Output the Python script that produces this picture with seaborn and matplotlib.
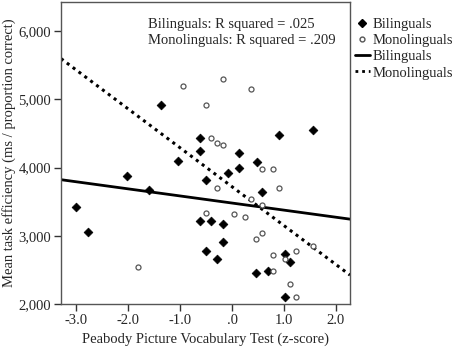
import numpy as np
import pandas as pd
import matplotlib
matplotlib.use("Agg")
import matplotlib.pyplot as plt
from matplotlib.lines import Line2D
import seaborn as sns

# Bilinguals (filled diamonds)
bil_x = [-3.0, -2.775, -2.02, -1.59, -1.365, -1.045, -0.615, -0.615, -0.50, -0.07,
         0.14, 0.14, 0.475, 0.904, 1.558, 0.577, -0.615, -0.40, -0.173, -0.173,
         -0.50, -0.283, 1.013, 1.115, 0.467, 0.687, 1.013]
bil_y = [3416, 3055, 3873, 3670, 4924, 4102, 4434, 4242, 3825, 3927,
         4219, 3993, 4088, 4477, 4550, 3650, 3216, 3216, 3168, 2915,
         2781, 2662, 2730, 2613, 2448, 2482, 2107]

# Monolinguals (open circles)
mono_x = [-1.81, -0.94, -0.506, -0.18, 0.36, -0.40, -0.29, -0.18, 0.577, 0.795,
          -0.283, 0.904, -0.506, 0.04, 0.365, 0.577, 0.25, 0.577, 0.467, 0.795,
          1.23, 1.013, 0.795, 1.558, 1.12, 1.23]
mono_y = [2550, 5193, 4915, 5294, 5153, 4440, 4365, 4335, 3985, 3985,
          3708, 3703, 3337, 3314, 3547, 3445, 3277, 3037, 2954, 2723,
          2780, 2667, 2477, 2847, 2288, 2107]

x_ticks = [-3.0, -2.0, -1.0, 0.0, 1.0, 2.0]
x_tick_labels = ["-3.0", "-2.0", "-1.0", ".0", "1.0", "2.0"]
y_ticks = [2000, 3000, 4000, 5000, 6000]
y_tick_labels = ["2,000", "3,000", "4,000", "5,000", "6,000"]

df = pd.DataFrame({
    "ppvt": bil_x + mono_x,
    "eff": bil_y + mono_y,
    "group": ["Bilinguals"] * len(bil_x) + ["Monolinguals"] * len(mono_x),
})

sns.set_style("white")
plt.rcParams["font.family"] = ["Liberation Serif", "DejaVu Serif"]

fig = plt.figure(figsize=(4.54, 3.51), dpi=100)
ax = fig.add_axes([61 / 454, 47 / 351, 289 / 454, 302 / 351])
ax.set_xlim(-3.29, 2.27)
ax.set_ylim(2000, 6430)

bil = df[df.group == "Bilinguals"]
mono = df[df.group == "Monolinguals"]

sns.scatterplot(data=bil, x="ppvt", y="eff", marker="D", color="black", s=20,
                edgecolor="black", linewidth=0.5, ax=ax, zorder=3)
sns.scatterplot(data=mono, x="ppvt", y="eff", marker="o", facecolor="white", s=13,
                edgecolor="#555555", linewidth=0.9, ax=ax, zorder=3)

sns.regplot(data=bil, x="ppvt", y="eff", scatter=False, ci=None, truncate=False,
            line_kws={"color": "black", "lw": 2.0}, ax=ax)
sns.regplot(data=mono, x="ppvt", y="eff", scatter=False, ci=None, truncate=False,
            line_kws={"color": "black", "lw": 2.2, "ls": (0, (1, 1.4))}, ax=ax)
ax.set_xlim(-3.29, 2.27)
ax.set_ylim(2000, 6430)

ax.set_xticks(x_ticks)
ax.set_xticklabels(x_tick_labels)
ax.set_yticks(y_ticks)
ax.set_yticklabels(y_tick_labels)
ax.tick_params(axis="both", direction="out", length=5, width=1, color="#333333",
               labelsize=10.5, pad=2, left=True, bottom=True)
for sp in ax.spines.values():
    sp.set_color("#555555")
    sp.set_linewidth(1)

ax.set_xlabel("Peabody Picture Vocabulary Test (z-score)", fontsize=10.5, labelpad=4)
ax.set_ylabel("Mean task efficiency (ms / proportion correct)", fontsize=10.5, labelpad=2)

ax.text(0.302, 0.927, "Bilinguals: R squared = .025", transform=ax.transAxes,
        fontsize=10.5, va="center")
ax.text(0.302, 0.871, "Monolinguals: R squared = .209", transform=ax.transAxes,
        fontsize=10.5, va="center")

handles = [
    Line2D([], [], marker="D", color="black", ls="none", markersize=4),
    Line2D([], [], marker="o", markerfacecolor="white", markeredgecolor="#555555",
           ls="none", markersize=3.5),
    Line2D([], [], color="black", lw=2),
    Line2D([], [], color="black", lw=2, ls=(0, (1, 1.4))),
]
labels = ["Bilinguals", "Monolinguals", "Bilinguals", "Monolinguals"]
fig.legend(handles, labels, loc="upper left", bbox_to_anchor=(355 / 454, 1 - 18 / 351),
           frameon=False, fontsize=10.5, handlelength=1.0, handletextpad=0.2,
           labelspacing=0.2, borderaxespad=0, borderpad=0)

fig.savefig("out.png", dpi=100)
